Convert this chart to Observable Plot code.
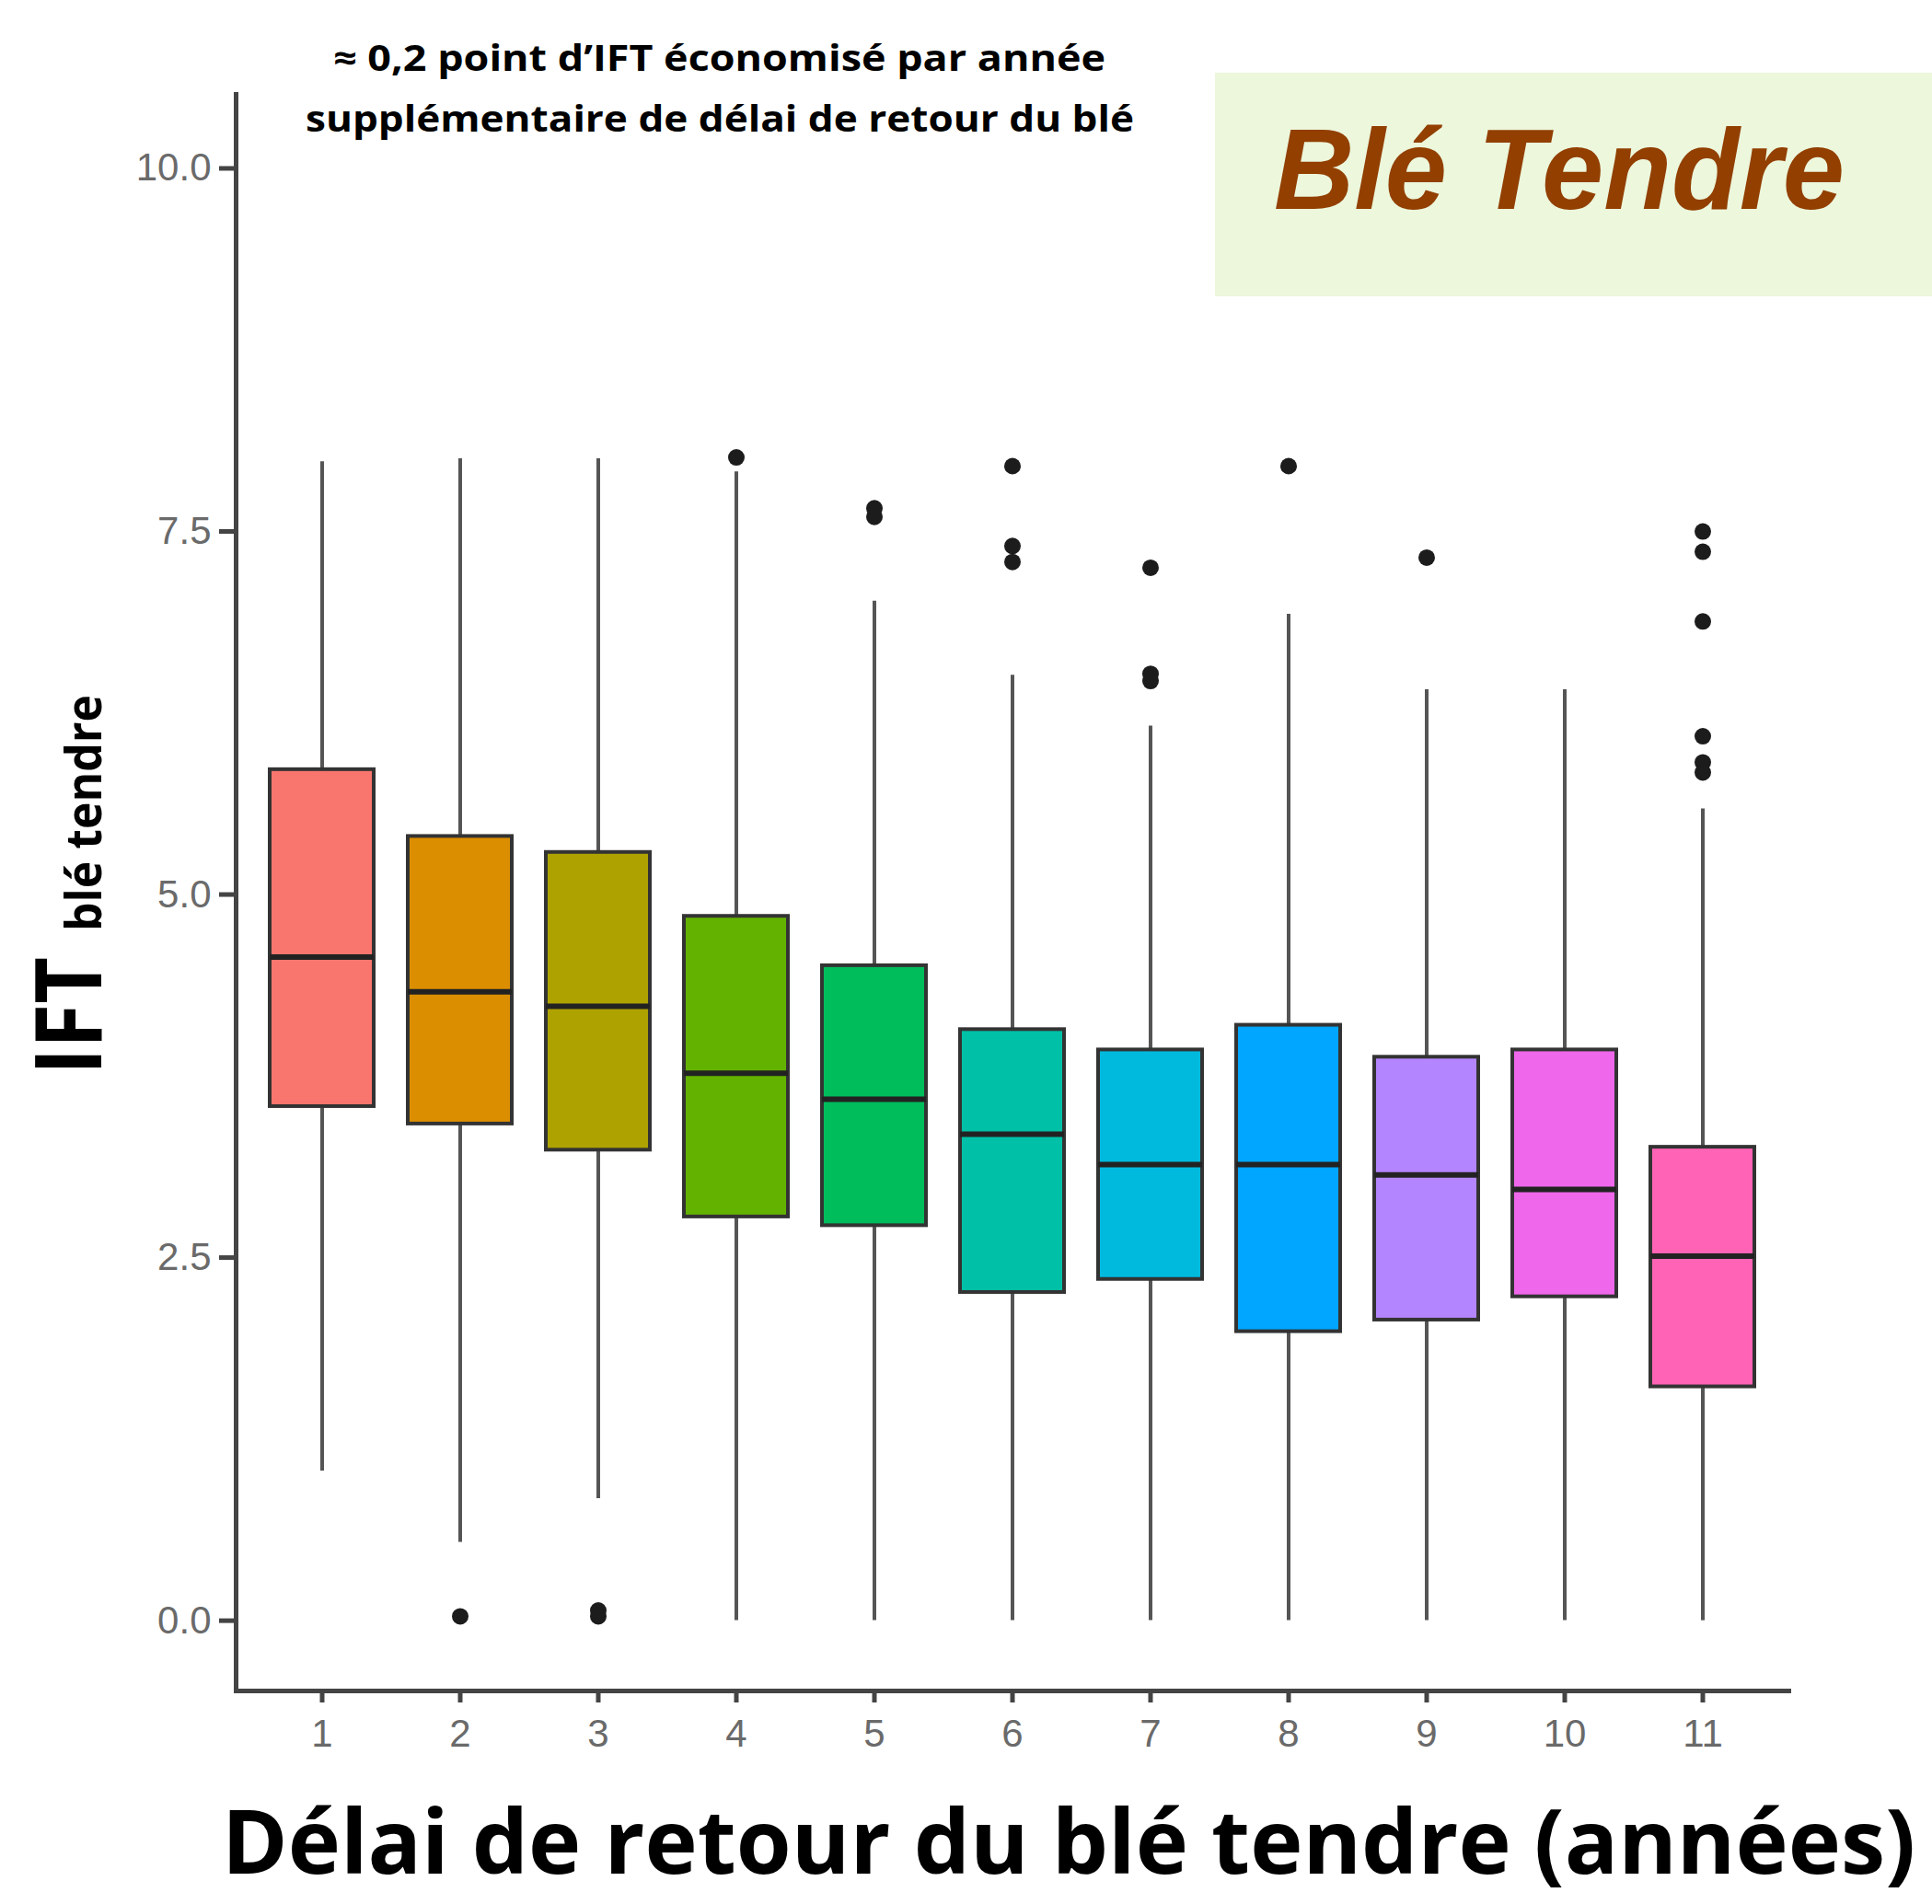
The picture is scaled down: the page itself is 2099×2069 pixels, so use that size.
<!DOCTYPE html>
<html>
<head>
<meta charset="utf-8">
<script src="https://cdn.jsdelivr.net/npm/d3@7"></script>
<script src="https://cdn.jsdelivr.net/npm/@observablehq/plot@0.6"></script>
<style>
  html, body { margin: 0; padding: 0; background: #ffffff; overflow: hidden; }
  #wrap { position: relative; width: 2099px; height: 2069px; }
  #overlay { position: absolute; left: 0; top: 0; pointer-events: none; }
</style>
</head>
<body>
<div id="wrap"></div>
<script>
// ---- Data ----
const delais      = ["1","2","3","4","5","6","7","8","9","10","11"];
const whiskerLow  = [1.03, 0.54, 0.84, 0.00, 0.00, 0.00, 0.00, 0.00, 0.00, 0.00, 0.00];
const q1          = [3.54, 3.42, 3.24, 2.78, 2.72, 2.26, 2.35, 1.99, 2.07, 2.23, 1.61];
const medians     = [4.57, 4.33, 4.23, 3.77, 3.59, 3.35, 3.14, 3.14, 3.07, 2.97, 2.51];
const q3          = [5.86, 5.40, 5.29, 4.85, 4.51, 4.07, 3.93, 4.10, 3.88, 3.93, 3.26];
const whiskerHigh = [7.98, 8.00, 8.00, 7.91, 7.02, 6.51, 6.16, 6.93, 6.41, 6.41, 5.59];

const outlierDelai = ["2","3","3","4","5","5","6","6","6","7","7","7","8","9","11","11","11","11","11","11"];
const outlierValue = [0.03,0.03,0.07,8.01,7.60,7.66,7.95,7.40,7.29,7.25,6.52,6.47,7.95,7.32,7.50,7.36,6.88,6.09,5.91,5.84];

const palette = ["#F8766D","#DB8E00","#AEA200","#64B200","#00BD5C","#00C1A7","#00BADE","#00A6FF","#B385FF","#EF67EB","#FF63B6"];
const yTicks = [0, 2.5, 5, 7.5, 10];

const titleLine1 = "\u2248 0,2 point d\u2019IFT \u00e9conomis\u00e9 par ann\u00e9e";
const titleLine2 = "suppl\u00e9mentaire de d\u00e9lai de retour du bl\u00e9";
const xTitle = "D\u00e9lai de retour du bl\u00e9 tendre (ann\u00e9es)";
const yTitleMain = "IFT";
const yTitleSub = "bl\u00e9 tendre";
const cropLabel = "Bl\u00e9 Tendre";

// ---- Tables built from the arrays ----
const boxes = delais.map((d, i) => ({
  delai: d, low: whiskerLow[i], q1: q1[i], median: medians[i], q3: q3[i], high: whiskerHigh[i]
}));
const outliers = outlierDelai.map((d, i) => ({delai: d, value: outlierValue[i]}));

const W = 2099, H = 2069;

const chart = Plot.plot({
  width: W,
  height: H,
  marginLeft: 256,
  marginRight: 156,
  marginTop: 102,
  marginBottom: 232,
  style: {fontFamily: "'Liberation Sans', Arial, sans-serif", fontSize: "42px", background: "#ffffff", color: "#444"},
  x: {type: "band", domain: delais, paddingInner: 0.25, paddingOuter: 0.225, align: 0.5},
  y: {domain: [-0.484, 10.51]},
  color: {type: "ordinal", domain: delais, range: palette},
  marks: [
    Plot.ruleX(boxes, {x: "delai", y1: "q3", y2: "high", stroke: "#555", strokeWidth: 4}),
    Plot.ruleX(boxes, {x: "delai", y1: "low", y2: "q1", stroke: "#555", strokeWidth: 4}),
    Plot.barY(boxes, {x: "delai", y1: "q1", y2: "q3", fill: "delai", stroke: "#333", strokeWidth: 4}),
    Plot.tickY(boxes, {x: "delai", y: "median", stroke: "#222", strokeWidth: 6}),
    Plot.dot(outliers, {x: "delai", y: "value", r: 9, fill: "#1c1c1c", stroke: null}),
    Plot.frame({anchor: "left", stroke: "#444", strokeWidth: 5}),
    Plot.frame({anchor: "bottom", stroke: "#444", strokeWidth: 5}),
    Plot.axisY({ticks: yTicks, tickFormat: d => d.toFixed(1), tickSize: 18, tickPadding: 9,
                stroke: "#444", strokeWidth: 5, fill: "#6a6a6a", fontSize: 42, label: null}),
    Plot.axisX({tickSize: 13, tickPadding: 18, stroke: "#444", strokeWidth: 5,
                fill: "#6a6a6a", fontSize: 42, label: null})
  ]
});

const wrap = document.getElementById("wrap");
wrap.appendChild(chart);

// ---- Titles and annotation (real text) ----
const ov = d3.select(wrap).append("svg")
  .attr("id", "overlay").attr("width", W).attr("height", H);

ov.append("rect").attr("x", 1320).attr("y", 79).attr("width", W - 1320).attr("height", 243)
  .attr("fill", "#ECF7DC");

ov.append("text").text(cropLabel)
  .attr("x", 1384).attr("y", 227)
  .attr("font-family", "'Liberation Sans', Arial, sans-serif")
  .attr("font-weight", 700).attr("font-style", "italic").attr("font-size", 124)
  .attr("fill", "#923F00")
  .attr("textLength", 620).attr("lengthAdjust", "spacingAndGlyphs");

const sansBold = "'Open Sans', 'Noto Sans', sans-serif";

ov.append("text").text(titleLine1)
  .attr("x", 362).attr("y", 77)
  .attr("font-family", sansBold).attr("font-weight", 700).attr("font-size", 39)
  .attr("fill", "#000").attr("textLength", 839).attr("lengthAdjust", "spacingAndGlyphs");

ov.append("text").text(titleLine2)
  .attr("x", 332).attr("y", 143)
  .attr("font-family", sansBold).attr("font-weight", 700).attr("font-size", 39)
  .attr("fill", "#000").attr("textLength", 900).attr("lengthAdjust", "spacingAndGlyphs");

ov.append("text").text(xTitle)
  .attr("x", 241).attr("y", 2036)
  .attr("font-family", sansBold).attr("font-weight", 700).attr("font-size", 96)
  .attr("fill", "#000").attr("textLength", 1840).attr("lengthAdjust", "spacingAndGlyphs");

ov.append("text").text(yTitleMain)
  .attr("transform", "translate(110,1168) rotate(-90)")
  .attr("font-family", sansBold).attr("font-weight", 700).attr("font-size", 100)
  .attr("fill", "#000").attr("textLength", 128).attr("lengthAdjust", "spacingAndGlyphs");

ov.append("text").text(yTitleSub)
  .attr("transform", "translate(110,1012) rotate(-90)")
  .attr("font-family", sansBold).attr("font-weight", 700).attr("font-size", 54)
  .attr("fill", "#000").attr("textLength", 257).attr("lengthAdjust", "spacingAndGlyphs");
</script>
</body>
</html>
